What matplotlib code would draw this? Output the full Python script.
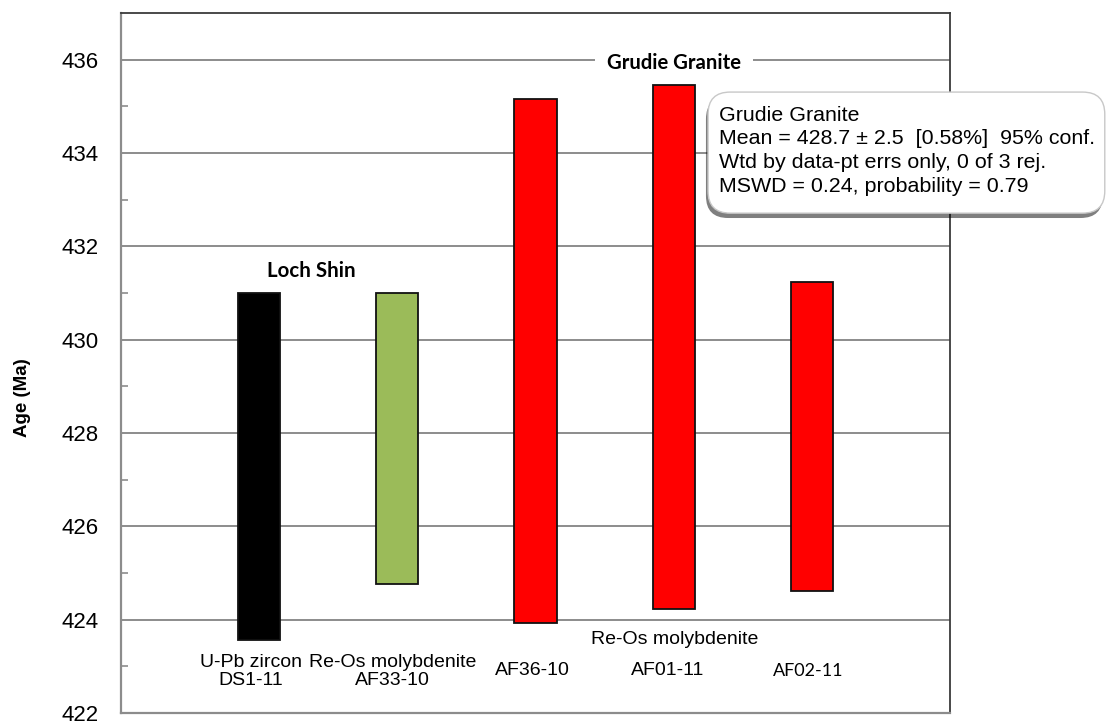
import matplotlib
matplotlib.use("Agg")
import matplotlib.pyplot as plt
from matplotlib.patches import FancyBboxPatch
from matplotlib import patheffects

# Sample ages with 2-sigma ranges (Ma)
samples = ["DS1-11", "AF33-10", "AF36-10", "AF01-11", "AF02-11"]
methods = ["U-Pb zircon", "Re-Os molybdenite", "", "", ""]
age_low = [423.56, 424.77, 423.92, 424.23, 424.62]
age_high = [431.00, 431.00, 435.16, 435.46, 431.24]
bar_colors = ["#000000", "#9BBB59", "#FF0000", "#FF0000", "#FF0000"]

y_ticks = [422, 424, 426, 428, 430, 432, 434, 436]
y_label = "Age (Ma)"
group_labels = ["Loch Shin", "Grudie Granite"]
summary_lines = [
    "Grudie Granite",
    "Mean = 428.7 \u00b1 2.5  [0.58%]  95% conf.",
    "Wtd by data-pt errs only, 0 of 3 rej.",
    "MSWD = 0.24, probability = 0.79",
]

ARIAL = "Liberation Sans"
CALIBRI = "Lato"

fig = plt.figure(figsize=(11.07, 7.25), dpi=100)
ax = fig.add_axes([0.1093, 0.0166, 0.7489, 0.9655])

x = list(range(len(samples)))
heights = [h - l for l, h in zip(age_low, age_high)]
ax.bar(x, heights, bottom=age_low, width=0.305, color=bar_colors,
       edgecolor="#111111", linewidth=1.3, zorder=3)

ax.set_xlim(-1, 5)
ax.set_ylim(422, 437)
ax.set_yticks(y_ticks)
ax.set_yticks([423, 425, 427, 429, 431, 433, 435], minor=True)
ax.set_xticks([])
ax.grid(axis="y", which="major", color="#8c8c8c", linewidth=1.4, zorder=1)
ax.tick_params(axis="y", which="major", length=0, pad=16, labelsize=16)
ax.tick_params(axis="y", which="minor", direction="in", length=5,
               width=1.2, color="#8c8c8c")
for lab in ax.get_yticklabels():
    lab.set_fontfamily(ARIAL)

for side in ("left", "bottom"):
    ax.spines[side].set_color("#8c8c8c")
    ax.spines[side].set_linewidth(1.6)
for side in ("top", "right"):
    ax.spines[side].set_color("#3a3a3a")
    ax.spines[side].set_linewidth(1.3)

ax.set_ylabel(y_label, fontsize=13.5, fontweight="bold", fontfamily=ARIAL,
              va="center")
ax.yaxis.set_label_coords(-0.1194, 0.451)

# Sample labels under the bars (small hand-tuned horizontal nudges)
lab_off = [-0.058, -0.036, -0.023, -0.046, -0.026]
for i, (m, s) in enumerate(zip(methods, samples)):
    if m:
        ax.text(i + lab_off[i], 422.89, f"{m}\n{s}", ha="center",
                va="center", fontsize=14, fontfamily=ARIAL,
                linespacing=1.12, zorder=4)
    elif s == "AF02-11":
        ax.text(i + lab_off[i], 422.9, s, ha="center", va="center",
                fontsize=13, fontfamily=CALIBRI, zorder=4)
    else:
        ax.text(i + lab_off[i], 422.9, s, ha="center", va="center",
                fontsize=14, fontfamily=ARIAL, zorder=4)
ax.text(3.01, 423.58, "Re-Os molybdenite", ha="center", va="center",
        fontsize=14, fontfamily=ARIAL, zorder=4)

# Group headings (the Grudie one sits on a white patch that breaks the grid
# line, drawn beneath the bars)
ax.text(0.378, 431.48, group_labels[0], ha="center", va="center",
        fontsize=14.8, fontweight="bold", fontfamily=CALIBRI, zorder=4)
ax.text(3.0, 435.93, group_labels[1], ha="center", va="center",
        fontsize=14.6, fontweight="bold", fontfamily=CALIBRI, zorder=2,
        bbox=dict(boxstyle="square,pad=0.6", fc="white", ec="none"))

# Weighted-mean summary callout
box = FancyBboxPatch((0.6396, 0.706), 0.3584, 0.167,
                     boxstyle="round,pad=0,rounding_size=0.02",
                     transform=fig.transFigure, fc="white", ec="#c8c8c8",
                     linewidth=1.0, zorder=10,
                     mutation_aspect=1107 / 725)
box.set_path_effects([
    patheffects.SimplePatchShadow(offset=(-1.5, -3.5), shadow_rgbFace="black",
                                  alpha=0.5),
    patheffects.Normal(),
])
fig.patches.append(box)
fig.text(0.6495, 0.792, "\n".join(summary_lines), ha="left", va="center",
         fontsize=15.4, fontfamily=ARIAL, linespacing=1.32, zorder=11)

fig.savefig("out.png", dpi=100)
